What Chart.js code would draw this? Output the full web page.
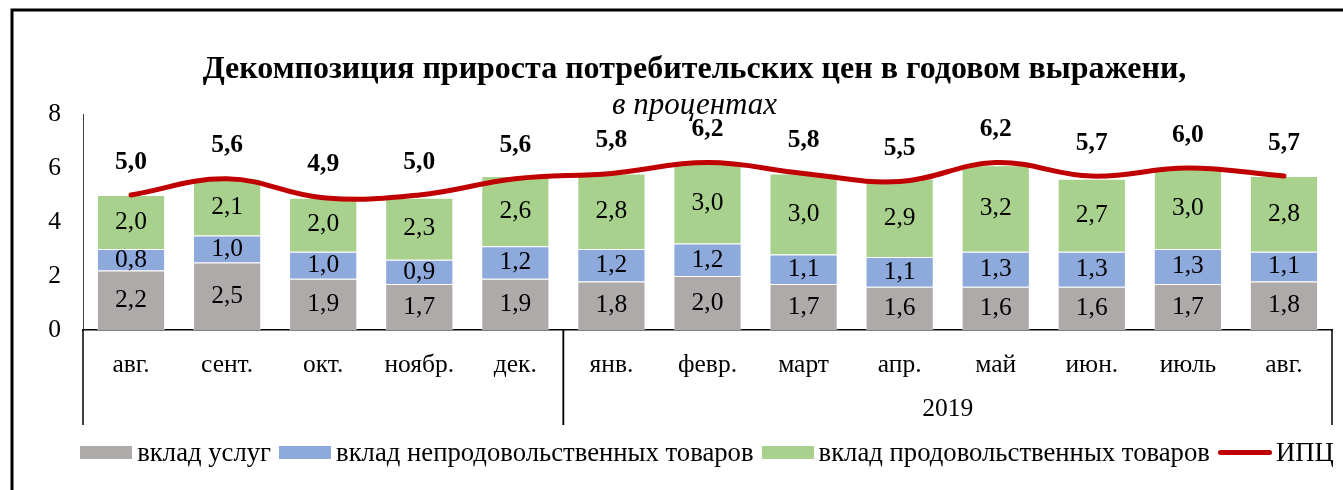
<!DOCTYPE html>
<html lang="ru">
<head>
<meta charset="UTF-8">
<title>Декомпозиция прироста потребительских цен</title>
<script src="https://cdn.jsdelivr.net/npm/chart.js"></script>
<style>
  html, body { margin: 0; padding: 0; background: #fff; overflow: hidden; }
  .chart-box { position: relative; width: 1343px; height: 490px; }
  .legend {
    position: absolute; left: 71px; width: 1272px; top: 436px; height: 32px;
    display: flex; justify-content: center; align-items: center;
    font-family: "Liberation Serif", "Times New Roman", serif; font-size: 26.7px; color: #000;
    white-space: nowrap;
  }
  .legend .item { display: flex; align-items: center; margin: 0 4px; }
  .legend .box { display: inline-block; width: 52px; height: 13px; margin-right: 5px; }
  .legend .line { display: inline-block; width: 54px; height: 5px; border-radius: 3px; margin-right: 4px; }
</style>
</head>
<body>
<div class="chart-box">
  <canvas id="cpiChart"></canvas>
  <div class="legend" id="legend"></div>
</div>
<script>
// Data
const months = ['авг.', 'сент.', 'окт.', 'ноябр.', 'дек.', 'янв.', 'февр.', 'март', 'апр.', 'май', 'июн.', 'июль', 'авг.'];
const yearGroups = [{ label: '', from: 0, to: 4 }, { label: '2019', from: 5, to: 12 }];
const services = [2.2, 2.5, 1.9, 1.7, 1.9, 1.8, 2.0, 1.7, 1.6, 1.6, 1.6, 1.7, 1.8];
const nonFood = [0.8, 1.0, 1.0, 0.9, 1.2, 1.2, 1.2, 1.1, 1.1, 1.3, 1.3, 1.3, 1.1];
const food = [2.0, 2.1, 2.0, 2.3, 2.6, 2.8, 3.0, 3.0, 2.9, 3.2, 2.7, 3.0, 2.8];
const cpi = [5.0, 5.6, 4.9, 5.0, 5.6, 5.8, 6.2, 5.8, 5.5, 6.2, 5.7, 6.0, 5.7];
const yTicks = [0, 2, 4, 6, 8];

const titleText = 'Декомпозиция прироста потребительских цен в годовом выражени,';
const subtitleText = 'в процентах';
const serif = '"Liberation Serif", "Times New Roman", serif';
const fmt = v => v.toFixed(1).replace('.', ',');

// Frame, headings, value labels, category groups
const decor = {
    id: 'decor',
    beforeDraw(chart) {
        const ctx = chart.ctx;
        ctx.save();
        ctx.strokeStyle = '#000';
        ctx.lineWidth = 3;
        ctx.beginPath();
        ctx.moveTo(12, chart.height);
        ctx.lineTo(12, 10);
        ctx.lineTo(chart.width, 10);
        ctx.stroke();

        ctx.fillStyle = '#000';
        ctx.textAlign = 'center';
        ctx.textBaseline = 'alphabetic';
        ctx.font = 'bold 32px ' + serif;
        ctx.fillText(titleText, chart.width / 2 + 23, 78);
        ctx.font = 'italic 31px ' + serif;
        ctx.fillText(subtitleText, chart.width / 2 + 23, 114);
        ctx.restore();
    },
    afterDatasetsDraw(chart) {
        const ctx = chart.ctx;
        ctx.save();
        ctx.fillStyle = '#000';
        ctx.textAlign = 'center';
        ctx.textBaseline = 'middle';
        chart.data.datasets.forEach((ds, i) => {
            const meta = chart.getDatasetMeta(i);
            meta.data.forEach((el, j) => {
                if (ds.type === 'line') {
                    ctx.font = 'bold 25.5px ' + serif;
                    ctx.fillText(fmt(ds.data[j]), el.x, el.y - 33);
                } else {
                    ctx.font = '25.5px ' + serif;
                    ctx.fillText(fmt(ds.data[j]), el.x, (el.y + el.base) / 2);
                }
            });
        });
        ctx.restore();
    },
    afterDraw(chart) {
        const ctx = chart.ctx;
        const x = chart.scales.x;
        const half = (x.getPixelForValue(1) - x.getPixelForValue(0)) / 2;
        const top = x.top;
        const bottom = x.top + 95;
        ctx.save();
        ctx.strokeStyle = '#000';
        ctx.lineWidth = 1.5;
        ctx.fillStyle = '#000';
        ctx.textAlign = 'center';
        ctx.textBaseline = 'middle';
        ctx.font = '25.5px ' + serif;
        yearGroups.forEach(g => {
            const l = x.getPixelForValue(g.from) - half;
            const r = x.getPixelForValue(g.to) + half;
            ctx.beginPath();
            ctx.moveTo(l, top);
            ctx.lineTo(l, bottom);
            ctx.moveTo(r, top);
            ctx.lineTo(r, bottom);
            ctx.stroke();
            if (g.label) ctx.fillText(g.label, (l + r) / 2, 409);
        });
        ctx.restore();
    }
};

const chart = new Chart(document.getElementById('cpiChart'), {
    type: 'bar',
    data: {
        labels: months,
        datasets: [
            { label: 'вклад услуг', data: services, backgroundColor: '#AEAAAA', stack: 's', order: 1,
              borderColor: 'rgba(255,255,255,0.5)', borderWidth: 1, barPercentage: 0.71, categoryPercentage: 1 },
            { label: 'вклад непродовольственных товаров', data: nonFood, backgroundColor: '#8EA9DB', stack: 's', order: 1,
              borderColor: 'rgba(255,255,255,0.5)', borderWidth: 1, barPercentage: 0.71, categoryPercentage: 1 },
            { label: 'вклад продовольственных товаров', data: food, backgroundColor: '#A9D18E', stack: 's', order: 1,
              borderColor: 'rgba(255,255,255,0.5)', borderWidth: 1, barPercentage: 0.71, categoryPercentage: 1 },
            { type: 'line', label: 'ИПЦ', data: cpi, borderColor: '#C00000', backgroundColor: '#C00000',
              borderWidth: 5, pointRadius: 0, tension: 0.4, stack: 'cpi', order: 0, borderCapStyle: 'round' }
        ]
    },
    options: {
        responsive: true,
        maintainAspectRatio: false,
        animation: false,
        layout: { padding: { top: 114, left: 40, right: 11, bottom: 65 } },
        plugins: {
            tooltip: { enabled: false },
            legend: { display: false }
        },
        scales: {
            x: {
                stacked: true,
                grid: { display: false, drawTicks: false },
                border: { display: true, color: '#000', width: 1.5 },
                ticks: { color: '#000', font: { family: serif, size: 25.5 }, padding: 20, maxRotation: 0 },
                afterFit: s => { s.height = 95; }
            },
            y: {
                stacked: true,
                min: 0,
                max: 8,
                grid: { display: false, drawTicks: false },
                border: { display: true, color: '#404040', width: 1 },
                ticks: { color: '#000', font: { family: serif, size: 25.5 }, padding: 22 },
                afterBuildTicks: s => { s.ticks = yTicks.map(v => ({ value: v })); },
                afterFit: s => { s.width = 43; }
            }
        }
    },
    plugins: [decor]
});

// Legend built from the datasets
document.getElementById('legend').innerHTML = chart.data.datasets.map(ds => {
    const mark = ds.type === 'line'
        ? `<span class="line" style="background:${ds.borderColor}"></span>`
        : `<span class="box" style="background:${ds.backgroundColor}"></span>`;
    return `<span class="item">${mark}${ds.label}</span>`;
}).join('');
</script>
</body>
</html>
